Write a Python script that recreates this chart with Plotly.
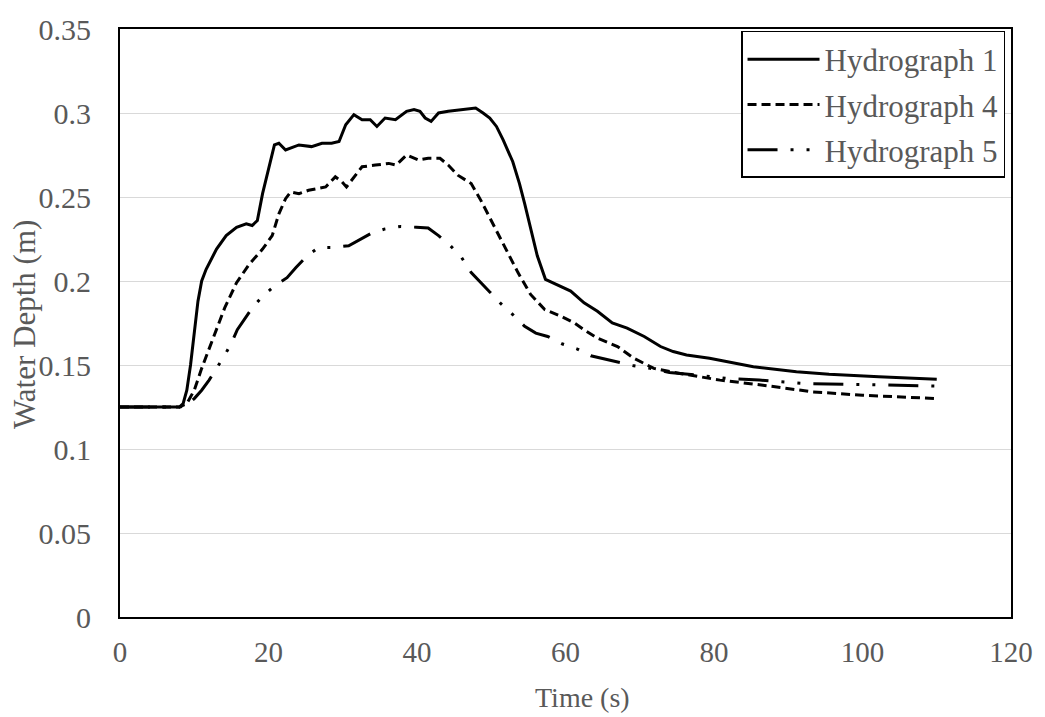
import plotly.graph_objects as go

# Hydrograph 1
t1 = [0, 2, 4, 6, 8, 8.5, 9, 9.5, 10, 10.5, 11, 11.6, 13, 14.3, 15.7, 17, 17.8, 18.5, 19.2, 20.1,
      20.8, 21.4, 22.3, 24.1, 25.8, 27.2, 28.5, 29.5, 30.4, 31.5, 32.6, 33.7, 34.6, 35.7, 37.1, 38.6,
      39.6, 40.4, 41.1, 41.9, 42.9, 44.2, 46.2, 47.9, 48.9, 49.8, 50.7, 51.6, 52.9, 53.8, 54.5, 55.4,
      56.2, 57.3, 58.3, 59.4, 60.7, 62.5, 64.3, 66.3, 68.3, 70.6, 72.8, 74.5, 76.3, 79.4, 85.3, 91.1,
      95.5, 102.2, 110]
d1 = [0.125, 0.125, 0.125, 0.125, 0.125, 0.127, 0.135, 0.15, 0.17, 0.188, 0.2, 0.207, 0.219, 0.227,
      0.232, 0.234, 0.233, 0.236, 0.252, 0.269, 0.281, 0.282, 0.278, 0.281, 0.280, 0.282, 0.282, 0.283,
      0.293, 0.299, 0.296, 0.296, 0.292, 0.297, 0.296, 0.301, 0.302, 0.301, 0.297, 0.295, 0.300, 0.301,
      0.302, 0.303, 0.300, 0.297, 0.292, 0.284, 0.271, 0.258, 0.246, 0.229, 0.215, 0.201, 0.199, 0.197,
      0.194, 0.187, 0.182, 0.175, 0.172, 0.167, 0.161, 0.158, 0.156, 0.154, 0.149, 0.146, 0.1445,
      0.143, 0.1415]

# Hydrograph 4
t4 = [0, 2, 4, 6, 8, 9, 10, 11, 12, 13, 14.1, 15.7, 17.4, 19.2, 20.5, 21.4, 22.3, 23, 24.1, 25.4,
      27.7, 29, 29.9, 30.5, 31.7, 32.6, 34.4, 36.2, 37.2, 38.6, 40.2, 41.5, 43.1, 44.2, 45.5, 47.3,
      48.6, 50.2, 51.8, 53.6, 55.3, 57.2, 59.4, 61.2, 62.5, 64.3, 67, 69.2, 71.9, 75.4, 80.8, 86.6,
      93.3, 100, 110]
d4 = [0.125, 0.125, 0.125, 0.125, 0.125, 0.127, 0.135, 0.148, 0.160, 0.171, 0.184, 0.199, 0.210,
      0.219, 0.227, 0.240, 0.249, 0.253, 0.252, 0.254, 0.256, 0.262, 0.259, 0.256, 0.263, 0.268, 0.269,
      0.270, 0.269, 0.275, 0.272, 0.273, 0.273, 0.269, 0.263, 0.258, 0.248, 0.234, 0.221, 0.205, 0.192,
      0.183, 0.179, 0.175, 0.171, 0.166, 0.161, 0.154, 0.148, 0.145, 0.141, 0.138, 0.134, 0.132, 0.130]

# Hydrograph 5
t5 = [0, 2, 4, 6, 8, 9, 10, 11, 12, 13, 14, 15, 15.8, 17.8, 19.2, 20.8, 22.5, 23.7, 25.2, 26.8,
      28.8, 30.8, 32.6, 33.9, 35.7, 37.8, 39.9, 41.5, 42.9, 44.5, 46, 47.3, 49.8, 51.3, 52.9, 54.5,
      56, 57.6, 59.6, 61.6, 63.4, 67.2, 69.2, 71.4, 74, 77.7, 81.7, 86.1, 92, 97.8, 102.2, 110]
d5 = [0.125, 0.125, 0.125, 0.125, 0.125, 0.126, 0.130, 0.135, 0.141, 0.148, 0.155, 0.163, 0.171,
      0.184, 0.191, 0.197, 0.202, 0.208, 0.215, 0.220, 0.220, 0.221, 0.2255, 0.2285, 0.231, 0.2325,
      0.232, 0.2315, 0.227, 0.221, 0.214, 0.205, 0.1935, 0.1865, 0.180, 0.173, 0.169, 0.167, 0.1625,
      0.1595, 0.1555, 0.1515, 0.1495, 0.148, 0.1455, 0.144, 0.142, 0.141, 0.139, 0.1385, 0.138, 0.1375]

series_names = ["Hydrograph 1", "Hydrograph 4", "Hydrograph 5"]
x_ticks = [0, 20, 40, 60, 80, 100, 120]
y_ticks = [0, 0.05, 0.1, 0.15, 0.2, 0.25, 0.3, 0.35]
y_ticktext = ["0", "0.05", "0.1", "0.15", "0.2", "0.25", "0.3", "0.35"]

FONT = "Liberation Serif, Times New Roman, serif"
GRAY = "#595959"

L, R, T, B = 120, 30, 22, 100
W, H = 1045, 717
pw, ph = W - L - R, H - T - B

def px_x(p):
    return (p - L) / pw

def px_y(p):
    return (H - B - p) / ph

fig = go.Figure()
styles = [
    dict(color="black", width=3, dash="solid"),
    dict(color="black", width=3, dash="9px,5px"),
    dict(color="black", width=3, dash="30px,13px,3px,13px,3px,13px"),
]
for i, (tx, dy) in enumerate([(t1, d1), (t4, d4), (t5, d5)]):
    fig.add_trace(go.Scatter(x=tx, y=dy, mode="lines", name=series_names[i],
                             line=styles[i], legendgroup=str(i)))

fig.update_layout(
    width=W, height=H,
    margin=dict(l=L, r=R, t=T, b=B),
    paper_bgcolor="white", plot_bgcolor="white",
    font=dict(family=FONT, size=29, color=GRAY),
    showlegend=True,
    legend=dict(x=px_x(1009), y=px_y(24), xanchor="right", yanchor="top",
                bgcolor="white", bordercolor="black", borderwidth=1.5,
                font=dict(family=FONT, size=31, color=GRAY),
                itemwidth=72, tracegroupgap=2, traceorder="grouped"),
    xaxis=dict(range=[0, 120], tickvals=x_ticks, showgrid=False, zeroline=False,
               showline=True, linecolor="black", linewidth=2, mirror=True,
               ticks="", ticklabelstandoff=8,
               tickfont=dict(family=FONT, size=29, color=GRAY)),
    yaxis=dict(range=[0, 0.35], tickvals=y_ticks, ticktext=y_ticktext,
               showgrid=True, gridcolor="#d9d9d9", gridwidth=1, zeroline=False,
               showline=True, linecolor="black", linewidth=2, mirror=True,
               ticks="", ticklabelstandoff=21,
               tickfont=dict(family=FONT, size=30, color=GRAY)),
    annotations=[
        dict(text="Time (s)", x=px_x(585), y=px_y(698), xref="paper", yref="paper",
             xanchor="center", yanchor="middle", showarrow=False,
             font=dict(family=FONT, size=28, color=GRAY)),
        dict(text="Water Depth (m)", x=px_x(24), y=px_y(321), xref="paper", yref="paper",
             xanchor="center", yanchor="middle", showarrow=False, textangle=-90,
             font=dict(family=FONT, size=31, color=GRAY)),
    ],
)

fig.write_html("out.html")
